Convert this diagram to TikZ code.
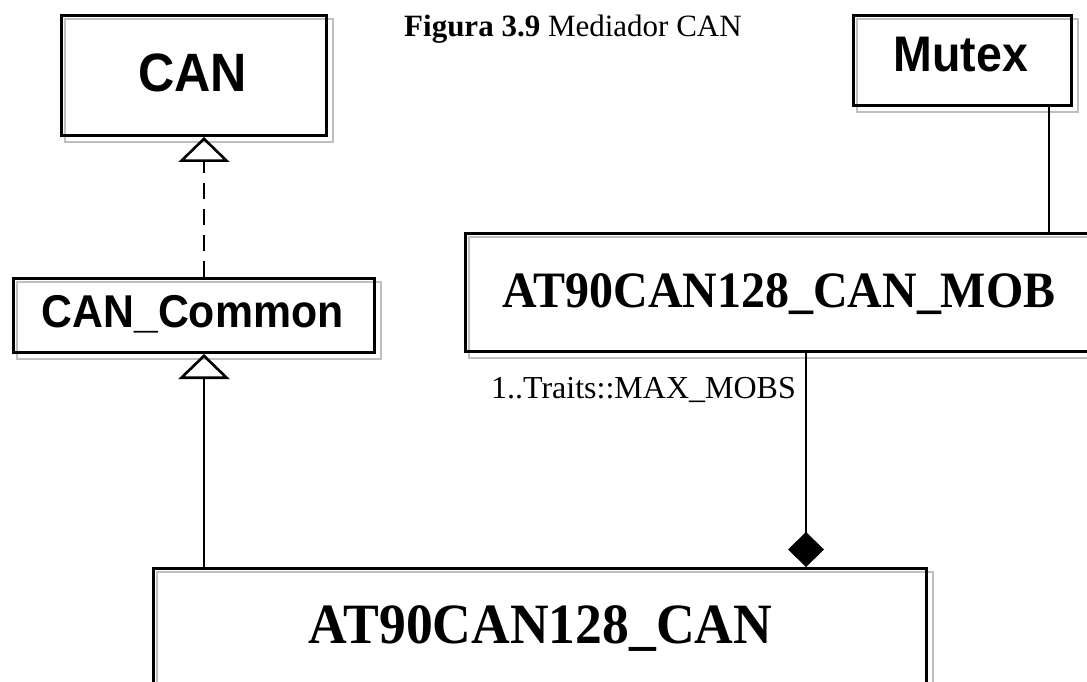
\documentclass[tikz,border=0pt]{standalone}
\usepackage{fontspec}
\setmainfont{Liberation Serif}
\newfontfamily\classsans[FakeStretch=0.93]{Liberation Sans}
\newfontfamily\classserif[FakeStretch=0.94]{Liberation Serif}
\usetikzlibrary{arrows.meta}
\usetikzlibrary{backgrounds}
\tikzset{
  classbox/.style={rectangle, draw=black, line width=3pt, inner sep=0pt, anchor=north west},
  boxshadow/.style={draw=black!25, line width=2pt},
  sansname/.style={font=\classsans\bfseries\fontsize{#1}{#1}\selectfont, inner sep=0pt, anchor=base},
  serifname/.style={font=\classserif\bfseries\fontsize{#1}{#1}\selectfont, inner sep=0pt, anchor=base},
  link/.style={line width=2.6pt},
  inherit/.style={-{Triangle[open, length=25pt, width=51pt]}},
}

\begin{document}
\begin{tikzpicture}[x=1pt, y=-1pt]
\useasboundingbox (0,0) rectangle (1087,682);

\node at (60,14)[classbox, minimum width=265pt, minimum height=120pt] (can) {};
\node[sansname=54] at (192.5,92) (canname) {CAN};
\node at (852,14)[classbox, minimum width=218pt, minimum height=90pt] (mutex) {};
\node[sansname=50] at (961,72) (mutexname) {Mutex};
\node at (12,277)[classbox, minimum width=361pt, minimum height=74pt] (common) {};
\node[sansname=46] at (192.5,327) (commonname) {CAN\_Common};

\node at (464,232)[classbox, minimum width=660pt, minimum height=118pt] (mob) {};
\node[serifname=51] at (779,307) (mobname) {AT90CAN128\_CAN\_MOB};
\node at (152,567)[classbox, minimum width=773pt, minimum height=150pt] (drv) {};
\node[serifname=57] at (540.5,643) (drvname) {AT90CAN128\_CAN};

\begin{scope}[on background layer]
\foreach \b in {can,mutex,common,mob,drv}
	\draw[boxshadow] ([shift={(5,5)}]\b.north west) rectangle ([shift={(5,5)}]\b.south east);
\end{scope}

\node[font=\fontsize{31}{31}\selectfont, inner sep=0pt, anchor=base west] at (404,37) (caption) {\textbf{Figura 3.9} Mediador CAN};

\draw[link, dash pattern=on 16pt off 10pt, inherit] ([xshift=192pt]common.north west) -- ([xshift=144pt]can.south west);
\draw[link, inherit] ([xshift=52pt]drv.north west) -- ([xshift=192pt]common.south west);
\draw[link] ([xshift=197pt]mutex.south west) -- ([xshift=585pt]mob.north west);
\draw[link, -{Diamond[length=35pt, width=36pt]}] ([xshift=342pt]mob.south west) -- ([xshift=654pt]drv.north west);
\node[font=\fontsize{32}{32}\selectfont, inner sep=0pt, anchor=base east] at (796,398) (mobmult) {1..Traits::MAX\_MOBS};

\end{tikzpicture}
\end{document}
